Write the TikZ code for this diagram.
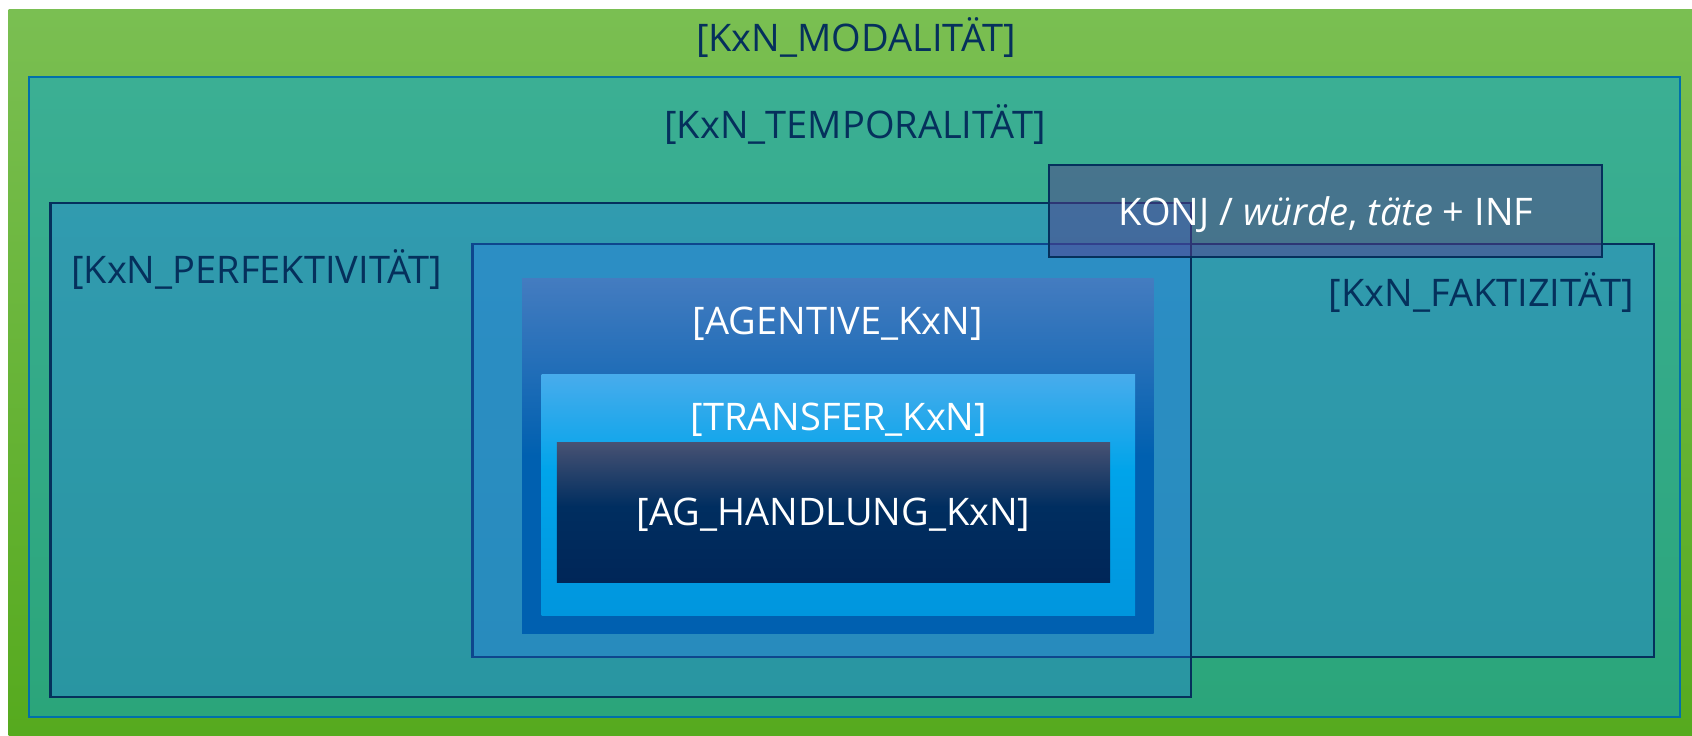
\documentclass[tikz,border=0pt]{standalone}
\usepackage{fontspec}
\setmainfont{Open Sans}
\definecolor{gtop}{RGB}{122,191,82}
\definecolor{gbot}{RGB}{86,170,30}
\definecolor{ttop}{RGB}{59,175,148}
\definecolor{tbot}{RGB}{43,165,122}
\definecolor{tline}{RGB}{0,112,170}
\definecolor{navy}{RGB}{5,48,92}
\definecolor{pfill}{RGB}{36,118,245}
\definecolor{kfill}{RGB}{85,60,140}
\definecolor{agtop}{RGB}{68,124,192}
\definecolor{agbot}{RGB}{0,96,176}
\definecolor{trtop}{RGB}{72,172,236}
\definecolor{trmid}{RGB}{0,164,234}
\definecolor{trbot}{RGB}{0,150,222}
\definecolor{hatop}{RGB}{72,82,115}
\definecolor{hamid}{RGB}{0,46,96}
\definecolor{habot}{RGB}{0,38,88}
\pgfdeclareverticalshading{agshade}{100bp}{color(0bp)=(agbot); color(25bp)=(agbot); color(50bp)=(agbot); color(75bp)=(agtop); color(100bp)=(agtop)}
\pgfdeclareverticalshading{trshade}{100bp}{color(0bp)=(trbot); color(25bp)=(trbot); color(55bp)=(trmid); color(75bp)=(trtop); color(100bp)=(trtop)}
\pgfdeclareverticalshading{hashade}{100bp}{color(0bp)=(habot); color(25bp)=(habot); color(52bp)=(hamid); color(75bp)=(hatop); color(100bp)=(hatop)}
\tikzset{
  navytext/.style={text=navy, inner sep=0pt, font=\fontsize{38}{44}\selectfont},
  whitetext/.style={text=white, inner sep=0pt, font=\fontsize{38}{44}\selectfont},
  frame/.style={draw=navy, line width=2.8pt, fill=pfill, fill opacity=0.32},
}
\begin{document}
\begin{tikzpicture}[x=1pt,y=-1pt]
\useasboundingbox (0,0) rectangle (1692,736);
\fill[white] (0,0) rectangle (1692,736);
% outer
\shade[top color=gtop, bottom color=gbot] (8.6,9.7) rectangle (1692,736);
% temporal
\shade[top color=ttop, bottom color=tbot] (29,77) rectangle (1680,717);
\draw[tline, line width=2.2pt] (29,77) rectangle (1680,717);
% faktizitaet
\path[frame] (472.6,244) rectangle (1654,657);
% perfektivitaet
\path[frame] (50.7,203) rectangle (1191,697);
% agentive
\shade[shading=agshade] (522,278) rectangle (1153.5,633);
% transfer
\shade[shading=trshade] (541.7,374) rectangle (1135,615);
% handlung
\shade[shading=hashade] (556.8,442) rectangle (1110,582);
% konj
\path[draw=navy, line width=2.8pt, fill=kfill, fill opacity=0.5] (1049,165) rectangle (1602,257);
% texts
\node[navytext] (modal) at (856,37.5) {[KxN\_MODALITÄT]};
\node[navytext] (temp) at (855,125) {[KxN\_TEMPORALITÄT]};
\node[navytext, anchor=west] (perf) at (71,269.5) {[KxN\_PERFEKTIVITÄT]};
\node[navytext, anchor=east] (fakt) at (1634,293) {[KxN\_FAKTIZITÄT]};
\node[whitetext] (konj) at (1326,215) {KONJ / \textit{würde}, \textit{täte} + INF};
\node[whitetext] (agent) at (838,324) {[AGENTIVE\_KxN]};
\node[whitetext] (trans) at (839,420) {[TRANSFER\_KxN]};
\node[whitetext] (handl) at (833.6,515) {[AG\_HANDLUNG\_KxN]};
\end{tikzpicture}
\end{document}
